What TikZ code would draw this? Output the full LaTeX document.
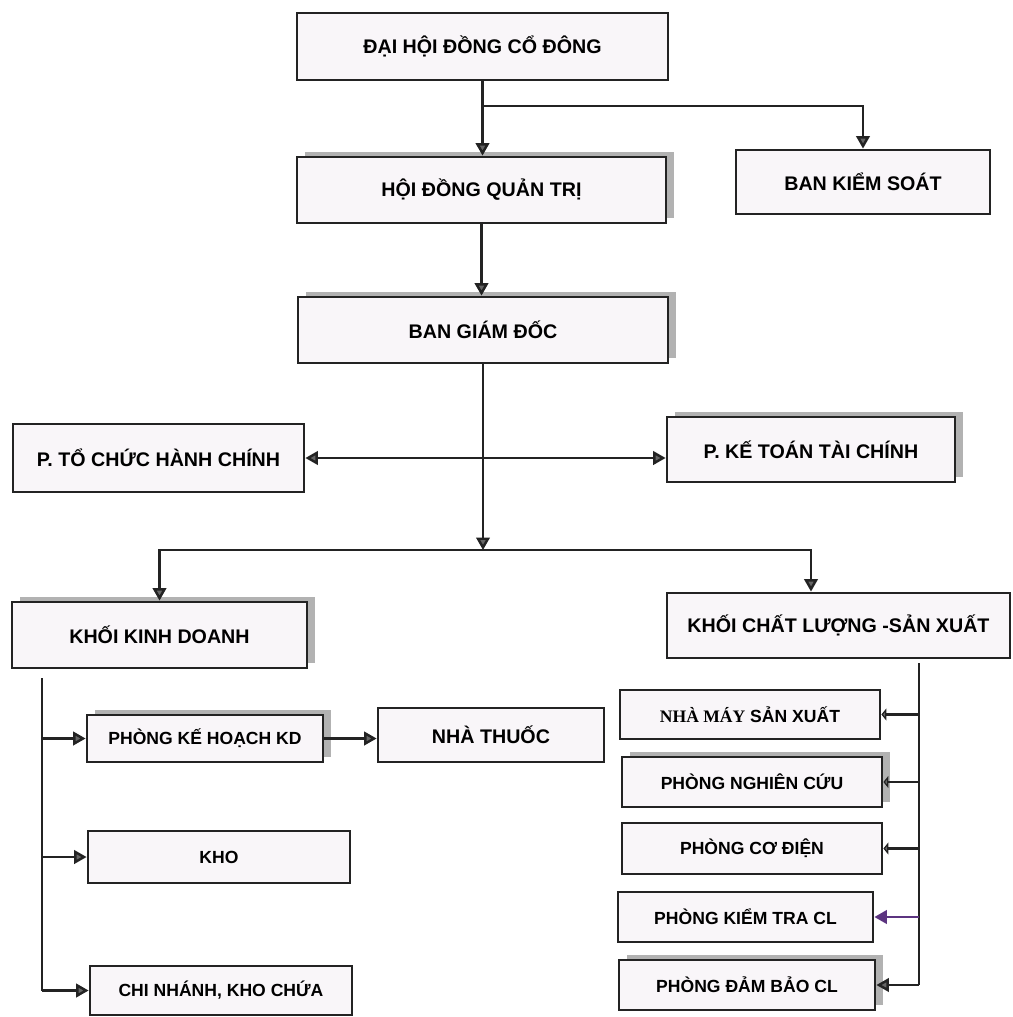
\documentclass[tikz,border=0pt]{standalone}
\usepackage{fontspec}
\setmainfont{Liberation Sans}
\newfontfamily\nmsfont{Liberation Serif}
\usetikzlibrary{arrows.meta,shadows}
\definecolor{boxfill}{RGB}{249,246,249}
\definecolor{lineblack}{RGB}{35,35,35}
\definecolor{kiemtra}{RGB}{92,52,128}
\tikzset{
  box/.style={rectangle, draw=lineblack, line width=1.6pt, fill=boxfill, inner sep=0pt, font=\bfseries\fontsize{11.2}{13}\selectfont},
  smallbox/.style={box, font=\bfseries\fontsize{10}{12}\selectfont},
  shadowed/.style={drop shadow={shadow xshift=0.16cm, shadow yshift=0.1cm, fill=gray!60, opacity=1}},
  link/.style={draw=lineblack, line width=1.4pt},
  arrow/.style={link, -{Triangle[length=0.25cm, width=0.27cm, fill=black!60]}},
  twoway/.style={link, {Triangle[length=0.25cm, width=0.27cm, fill=black!60]}-{Triangle[length=0.25cm, width=0.27cm, fill=black!60]}},
  tick/.style={link, -{Triangle[length=0.1cm, width=0.24cm, fill=black!60]}},
  purplearrow/.style={link, draw=kiemtra, -{Triangle[length=0.25cm, width=0.27cm, fill=kiemtra]}}
}
\begin{document}
\begin{tikzpicture}[x=0.02cm, y=-0.02cm]
  \useasboundingbox (0,0) rectangle (1013,1017);
  % Nodes
  \node (dhdcd) [box, minimum width=7.42cm, minimum height=1.34cm] at (482.5, 46.5) {ĐẠI HỘI ĐỒNG CỔ ĐÔNG};
  \node (hdqt) [box, shadowed, minimum width=7.38cm, minimum height=1.32cm] at (481.5, 190) {HỘI ĐỒNG QUẢN TRỊ};
  \node (bks) [box, minimum width=5.08cm, minimum height=1.28cm] at (863, 182) {BAN KIỂM SOÁT};
  \node (bgd) [box, shadowed, minimum width=7.40cm, minimum height=1.32cm] at (483, 330) {BAN GIÁM ĐỐC};
  \node (ptchc) [box, minimum width=5.82cm, minimum height=1.36cm] at (158.5, 458) {P. TỔ CHỨC HÀNH CHÍNH};
  \node (pkttc) [box, shadowed, minimum width=5.76cm, minimum height=1.30cm] at (811, 449.5) {P. KẾ TOÁN TÀI CHÍNH};
  \node (kkd) [box, shadowed, minimum width=5.90cm, minimum height=1.32cm] at (159.5, 635) {KHỐI KINH DOANH};
  \node (kclsx) [box, minimum width=6.86cm, minimum height=1.30cm] at (838.5, 625.5) {KHỐI CHẤT LƯỢNG -SẢN XUẤT};
  \node (pkhkd) [smallbox, shadowed, minimum width=4.72cm, minimum height=0.94cm] at (205, 738.5) {PHÒNG KẾ HOẠCH KD};
  \node (nhathuoc) [box, minimum width=4.52cm, minimum height=1.08cm] at (491, 735) {NHÀ THUỐC};
  \node (kho) [smallbox, minimum width=5.24cm, minimum height=1.04cm] at (219, 857) {KHO};
  \node (cnkc) [smallbox, minimum width=5.24cm, minimum height=0.98cm] at (221, 990.5) {CHI NHÁNH, KHO CHỨA};
  \node (nmsx) [smallbox, minimum width=5.20cm, minimum height=0.98cm] at (750, 714.5) {{\nmsfont\bfseries NHÀ MÁY} SẢN XUẤT};
  \node (pnc) [smallbox, shadowed, minimum width=5.20cm, minimum height=1.00cm] at (752, 782) {PHÒNG NGHIÊN CỨU};
  \node (pcd) [smallbox, minimum width=5.20cm, minimum height=1.02cm] at (752, 848.5) {PHÒNG CƠ ĐIỆN};
  \node (pktcl) [smallbox, minimum width=5.10cm, minimum height=1.00cm] at (745.5, 917) {PHÒNG KIỂM TRA CL};
  \node (pdbcl) [smallbox, shadowed, minimum width=5.12cm, minimum height=1.00cm] at (747, 985) {PHÒNG ĐẢM BẢO CL};
  % Arrow
  \coordinate (split) at (482.5, 106);
  \draw[arrow] (dhdcd.south) -- (dhdcd.south |- hdqt.north);
  \draw[arrow] (split) -| (bks.north);
  \draw[arrow] (hdqt.south) -- (hdqt.south |- bgd.north);
  \coordinate (hub) at (484, 550);
  \draw[arrow] (bgd.south) -- (bgd.south |- hub);
  \draw[twoway] (ptchc.east) -- (ptchc.east -| pkttc.west);
  \draw[arrow] (hub) -| (kkd.north);
  \draw[arrow] (hub) -| (kclsx.north -| pkttc);
  % Khoi kinh doanh
  \coordinate (kdtop) at (42, 678);
  \coordinate (kdbot) at (42, 990.5);
  \draw[link] (kdtop) -- (kdbot);
  \draw[arrow] (kdtop |- pkhkd.west) -- (pkhkd.west);
  \draw[arrow] (kdtop |- kho.west) -- (kho.west);
  \draw[arrow] (kdbot) -- (cnkc.west);
  \draw[arrow] (pkhkd.east) -- (pkhkd.east -| nhathuoc.west);
  % Khoi chat luong - san xuat
  \coordinate (sxtop) at (919, 663);
  \coordinate (sxbot) at (919, 985);
  \draw[link] (sxtop) -- (sxbot);
  \draw[tick] (sxtop |- nmsx.east) -- (nmsx.east);
  \draw[tick] (sxtop |- pnc.east) -- (pnc.east);
  \draw[tick] (sxtop |- pcd.east) -- (pcd.east);
  \draw[purplearrow] (sxtop |- pktcl.east) -- (pktcl.east);
  \draw[arrow] (sxbot) -- (pdbcl.east);
\end{tikzpicture}
\end{document}
